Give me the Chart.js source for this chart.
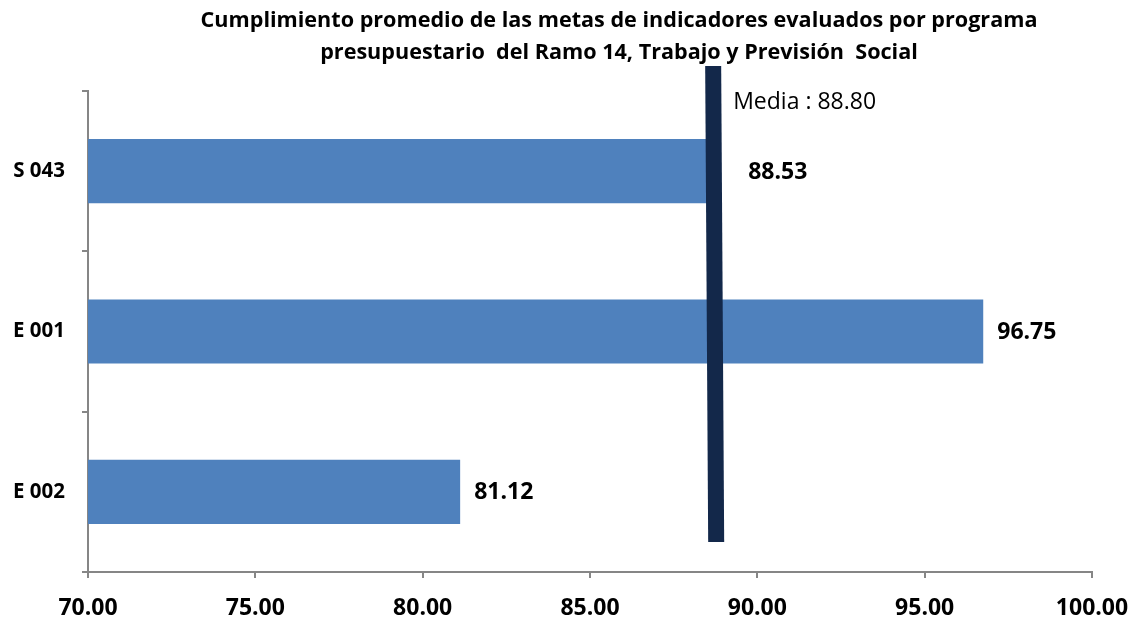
<!DOCTYPE html>
<html>
<head>
<meta charset="utf-8">
<script src="https://cdn.jsdelivr.net/npm/chart.js@4.4.1/dist/chart.umd.min.js"></script>
<style>
  html, body { margin: 0; padding: 0; background: #ffffff; }
  #wrap { width: 1134px; height: 627px; position: relative; }
</style>
</head>
<body>
<div id="wrap"><canvas id="c" width="1134" height="627"></canvas></div>
<script>
// Programas presupuestarios del Ramo 14 y su cumplimiento promedio (%)
const programas = ['S 043', 'E 001', 'E 002'];
const cumplimiento = [88.53, 96.75, 81.12];
const media = 88.80;
const mediaTexto = 'Media : 88.80';
const tituloLineas = [
  'Cumplimiento promedio de las metas de indicadores evaluados por programa',
  'presupuestario  del Ramo 14, Trabajo y Previsión  Social'
];
const ejeMin = 70, ejeMax = 100, ejePaso = 5;

const FONT = '"Open Sans", Lato, sans-serif';
const AXIS_GRAY = '#868686';

// Título en dos líneas
const tituloPlugin = {
  id: 'tituloPlugin',
  afterDraw(chart) {
    const { ctx } = chart;
    ctx.save();
    ctx.font = 'bold 21.6px ' + FONT;
    ctx.fillStyle = '#000000';
    ctx.textAlign = 'center';
    ctx.textBaseline = 'middle';
    const cx = chart.width / 2 + 52;
    tituloLineas.forEach((t, i) => ctx.fillText(t, cx, 21 + i * 32));
    ctx.restore();
  }
};

// Línea de la media y etiquetas de valor
const mediaPlugin = {
  id: 'mediaPlugin',
  afterDatasetsDraw(chart) {
    const { ctx, chartArea, scales } = chart;
    const x = scales.x;
    const xm = x.getPixelForValue(media);
    const top = chartArea.top - 25;
    const bottom = chartArea.bottom - 30;

    // etiquetas de valor de cada barra
    ctx.save();
    ctx.font = 'bold 23px ' + FONT;
    ctx.fillStyle = '#000000';
    ctx.textBaseline = 'middle';
    ctx.textAlign = 'left';
    const meta = chart.getDatasetMeta(0);
    meta.data.forEach((bar, i) => {
      const txt = cumplimiento[i].toFixed(2);
      const tw = ctx.measureText(txt).width;
      let lx = bar.x + 14;
      // evita que la etiqueta se encime con la línea de la media
      if (lx < xm + 10 && lx + tw > xm - 14) lx = xm + 31;
      ctx.fillText(txt, lx, bar.y + 1);
    });
    ctx.restore();

    // línea de la media (ligeramente inclinada)
    ctx.save();
    ctx.fillStyle = '#13284a';
    ctx.beginPath();
    ctx.moveTo(xm - 12, top);
    ctx.lineTo(xm + 4, top);
    ctx.lineTo(xm + 7, bottom);
    ctx.lineTo(xm - 9, bottom);
    ctx.closePath();
    ctx.fill();

    ctx.font = '23px ' + FONT;
    ctx.fillStyle = '#000000';
    ctx.textAlign = 'left';
    ctx.textBaseline = 'middle';
    ctx.fillText(mediaTexto, xm + 16, chartArea.top + 11);
    ctx.restore();
  }
};

const tickLabels = [];
for (let v = ejeMin; v <= ejeMax; v += ejePaso) tickLabels.push(v);

new Chart(document.getElementById('c'), {
  type: 'bar',
  data: {
    labels: programas,
    datasets: [{
      data: cumplimiento,
      backgroundColor: '#4f81bd',
      borderWidth: 0,
      categoryPercentage: 1.0,
      barPercentage: 0.4
    }]
  },
  options: {
    indexAxis: 'y',
    responsive: false,
    animation: false,
    layout: { padding: { left: 0, right: 42, top: 91, bottom: 0 } },
    plugins: {
      legend: { display: false },
      tooltip: { enabled: false },
      title: { display: false }
    },
    scales: {
      x: {
        min: ejeMin,
        max: ejeMax,
        afterBuildTicks(scale) {
          scale.ticks = tickLabels.map(v => ({ value: v }));
        },
        afterFit(scale) {
          scale.height = 55;
          scale.paddingLeft = 0;
          scale.paddingRight = 0;
        },
        border: { display: true, color: AXIS_GRAY, width: 2 },
        grid: { drawOnChartArea: false, drawTicks: true, tickLength: 6, color: AXIS_GRAY, lineWidth: 2 },
        ticks: {
          color: '#000000',
          padding: 17,
          maxRotation: 0,
          font: { family: FONT, size: 23, weight: 'bold' },
          callback: v => Number(v).toFixed(2)
        }
      },
      y: {
        afterFit(scale) { scale.width = 88; },
        border: { display: true, color: AXIS_GRAY, width: 2 },
        grid: { offset: true, drawOnChartArea: false, drawTicks: true, tickLength: 6, color: AXIS_GRAY, lineWidth: 2 },
        ticks: {
          color: '#000000',
          padding: 17,
          font: { family: FONT, size: 20.5, weight: 'bold' }
        }
      }
    }
  },
  plugins: [mediaPlugin, tituloPlugin]
});
</script>
</body>
</html>
